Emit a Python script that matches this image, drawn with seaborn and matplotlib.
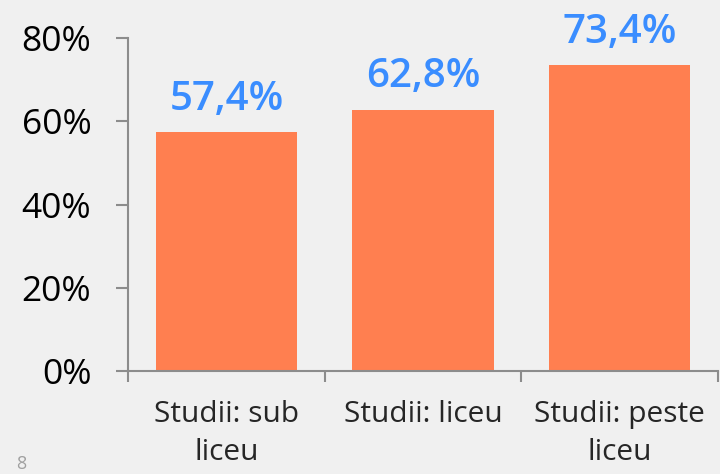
import numpy as np
import pandas as pd
import matplotlib
matplotlib.use('Agg')
import matplotlib.pyplot as plt
import seaborn as sns
from matplotlib.ticker import FuncFormatter

categories = ['Studii: sub\nliceu', 'Studii: liceu', 'Studii: peste\nliceu']
values = [57.4, 62.8, 73.4]
yticks = [0, 20, 40, 60, 80]

df = pd.DataFrame({'cat': categories, 'val': values})

sns.set_style('white')
plt.rcParams['font.family'] = ['Open Sans', 'DejaVu Sans']

bg = '#F0F0F0'
axis_col = '#8C8C8C'

fig = plt.figure(figsize=(7.2, 4.74), dpi=100, facecolor=bg)
ax = fig.add_axes([0.178, 0.217, 0.819, 0.703])
ax.set_facecolor(bg)

sns.barplot(data=df, x='cat', y='val', color='#FF7F50', saturation=1,
            width=0.72, linewidth=0, ax=ax)

ax.set_ylim(0, 80)
ax.set_xlim(-0.5, len(categories) - 0.5)
ax.set_yticks(yticks)
ax.yaxis.set_major_formatter(FuncFormatter(lambda v, p: f'{v:.0f}%'))
ax.set_xlabel('')
ax.set_ylabel('')

for s in ['top', 'right']:
    ax.spines[s].set_visible(False)
for s in ['left', 'bottom']:
    ax.spines[s].set_color(axis_col)
    ax.spines[s].set_linewidth(1.5)

ax.tick_params(axis='y', direction='out', length=8.5, width=1.5, color=axis_col,
               labelsize=25.5, pad=18, labelcolor='black', left=True)
ax.tick_params(axis='x', which='major', length=0, labelsize=21.5, pad=21)
ax.set_xticks(np.arange(-0.5, len(categories)), minor=True)
ax.tick_params(axis='x', which='minor', direction='out', length=8, width=1.5,
               color=axis_col, bottom=True)
for lab in ax.get_xticklabels():
    lab.set_linespacing(1.4)

for i, v in enumerate(values):
    ax.annotate(f'{v:.1f}'.replace('.', ',') + '%', (i, v), xytext=(0, 16),
                textcoords='offset points', ha='center', va='baseline',
                fontsize=29, fontweight='semibold', color='#3A8DFF',
                annotation_clip=False)

fig.text(0.022, 0.002, '8', fontsize=13, color='#A0A0A0', ha='left', va='bottom')

fig.savefig('out.png', dpi=100, facecolor=bg)
plt.close()
